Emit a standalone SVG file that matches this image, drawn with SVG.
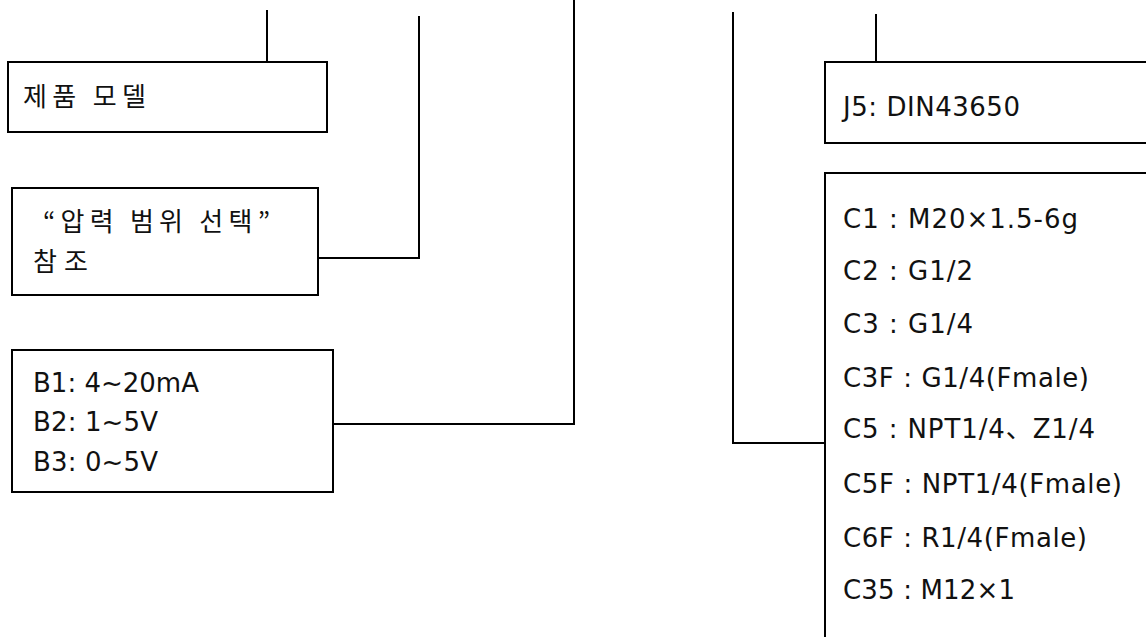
<svg xmlns="http://www.w3.org/2000/svg" width="1146" height="637" viewBox="0 0 1146 637">
<style>
  .box { fill: #fff; stroke: #000; stroke-width: 2; }
  .conn { fill: none; stroke: #000; stroke-width: 2; }
  .t { font-family: "DejaVu Sans", "Noto Sans CJK KR", sans-serif; font-size: 26px; fill: #111; }
  .k { font-family: "Noto Sans CJK KR", "DejaVu Sans", sans-serif; font-size: 26px; fill: #111; }
</style>
<rect width="1146" height="637" fill="#fff"/>
<g id="connectors">
  <line class="conn" x1="267" y1="10" x2="267" y2="62"/>
  <polyline class="conn" points="419,16 419,258 318,258"/>
  <polyline class="conn" points="574,0 574,424 333,424"/>
  <line class="conn" x1="876" y1="14" x2="876" y2="62"/>
  <polyline class="conn" points="733,12 733,443 825,443"/>
</g>
<g id="node-model">
  <rect class="box" x="8" y="62" width="319" height="70"/>
  <text class="k" x="23" y="106" textLength="123" lengthAdjust="spacing">제품 모델</text>
</g>
<g id="node-range">
  <rect class="box" x="12" y="188" width="306" height="107"/>
  <text class="k" x="43" y="231" textLength="227" lengthAdjust="spacing">“압력 범위 선택”</text>
  <text class="k" x="33" y="271" textLength="55" lengthAdjust="spacing">참조</text>
</g>
<g id="node-output">
  <rect class="box" x="12" y="350" width="321" height="142"/>
  <text class="t" x="33" y="392" textLength="166" lengthAdjust="spacing">B1: 4~20mA</text>
  <text class="t" x="33" y="431" textLength="125" lengthAdjust="spacing">B2: 1~5V</text>
  <text class="t" x="33" y="471" textLength="125" lengthAdjust="spacing">B3: 0~5V</text>
</g>
<g id="node-connector">
  <rect class="box" x="825" y="62" width="340" height="81"/>
  <text class="t" x="843" y="116" textLength="177" lengthAdjust="spacing">J5: DIN43650</text>
</g>
<g id="node-thread">
  <rect class="box" x="825" y="173" width="340" height="500"/>
  <text class="t" x="843" y="228" textLength="235" lengthAdjust="spacing">C1 : M20×1.5-6g</text>
  <text class="t" x="843" y="280" textLength="130" lengthAdjust="spacing">C2 : G1/2</text>
  <text class="t" x="843" y="333" textLength="130" lengthAdjust="spacing">C3 : G1/4</text>
  <text class="t" x="843" y="387" textLength="246" lengthAdjust="spacing">C3F : G1/4(Fmale)</text>
  <text class="t" x="843" y="438" textLength="252" lengthAdjust="spacing">C5 : NPT1/4、Z1/4</text>
  <text class="t" x="843" y="493" textLength="279" lengthAdjust="spacing">C5F : NPT1/4(Fmale)</text>
  <text class="t" x="843" y="547" textLength="244" lengthAdjust="spacing">C6F : R1/4(Fmale)</text>
  <text class="t" x="843" y="599" textLength="172" lengthAdjust="spacing">C35 : M12×1</text>
</g>
</svg>
